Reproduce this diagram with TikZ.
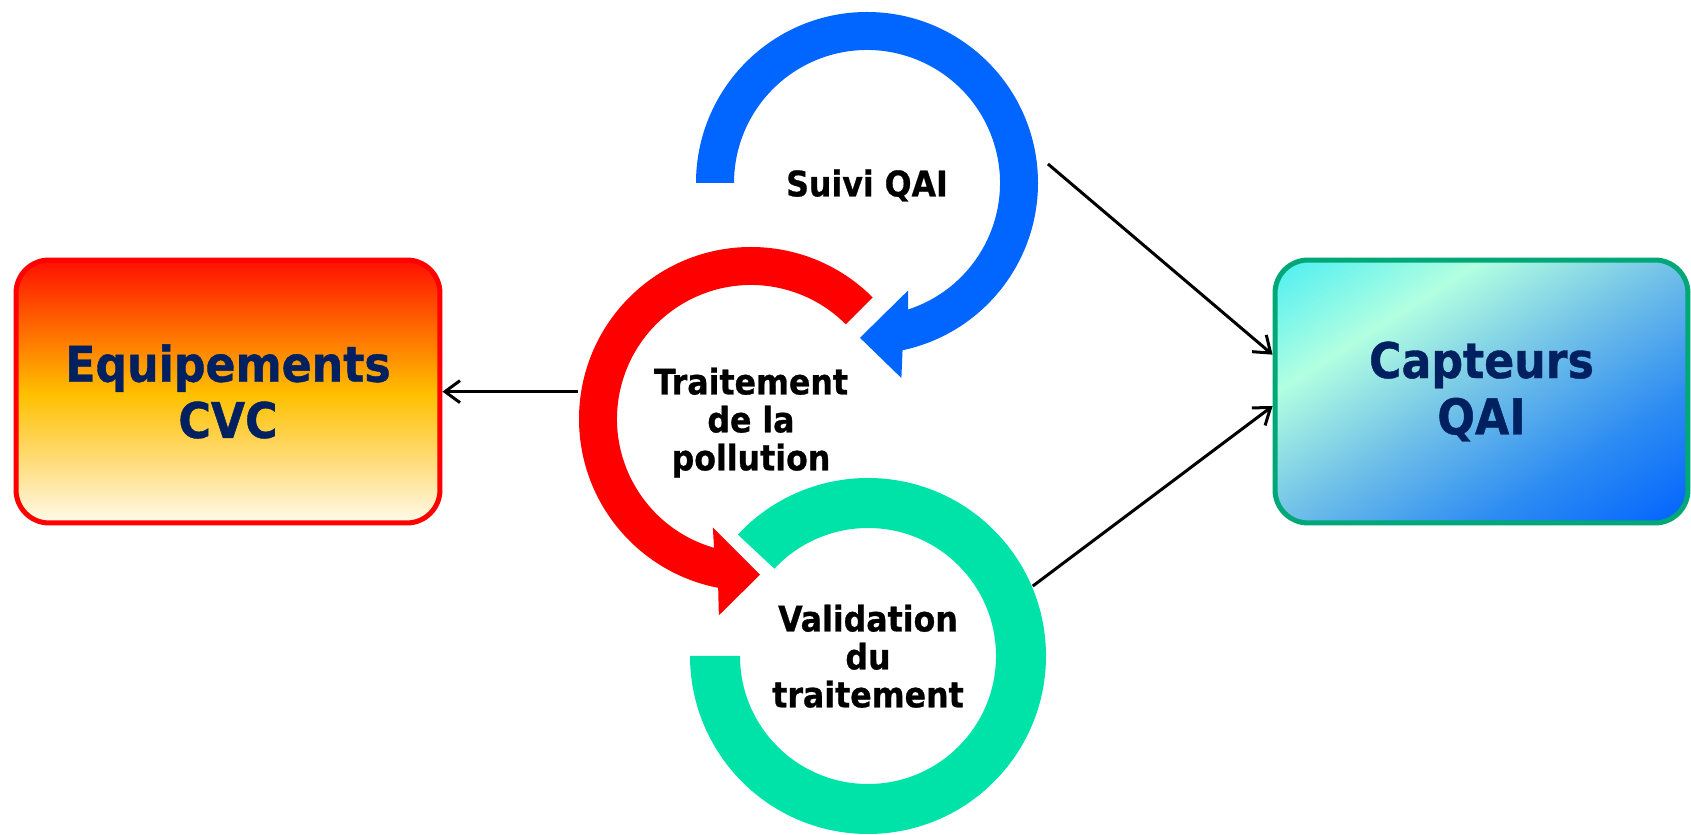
\documentclass[tikz,border=0pt]{standalone}
\usepackage{fontspec}
\setmainfont{DejaVu Sans Condensed}[BoldFont={DejaVu Sans Condensed Bold}, BoldFeatures={FakeBold=0.8}]
\usepackage{tikz}
\usetikzlibrary{arrows.meta}

\definecolor{ringblue}{RGB}{0,102,255}
\definecolor{ringred}{RGB}{255,0,0}
\definecolor{ringgreen}{RGB}{0,227,168}
\definecolor{navytext}{RGB}{0,32,96}
\definecolor{edgegreen}{RGB}{0,168,120}

\definecolor{fireA}{RGB}{255,250,235}
\definecolor{fireB}{RGB}{255,220,120}
\definecolor{fireC}{RGB}{255,192,0}
\definecolor{fireD}{RGB}{255,110,0}
\definecolor{fireE}{RGB}{255,15,0}
\pgfdeclareverticalshading{fire}{100bp}{color(0bp)=(fireA); color(25bp)=(fireA); color(37bp)=(fireB); color(49.5bp)=(fireC); color(61.5bp)=(fireD); color(75bp)=(fireE); color(100bp)=(fireE)}

\definecolor{coolA}{RGB}{75,238,242}
\definecolor{coolB}{RGB}{178,255,225}
\definecolor{coolC}{RGB}{112,192,232}
\definecolor{coolD}{RGB}{45,140,242}
\definecolor{coolE}{RGB}{0,98,255}
\pgfdeclarehorizontalshading{cool}{100bp}{color(0bp)=(coolA); color(25bp)=(coolA); color(37.5bp)=(coolB); color(50bp)=(coolC); color(62.5bp)=(coolD); color(75bp)=(coolE); color(100bp)=(coolE)}

\begin{document}
\begin{tikzpicture}[
        x=0.02cm, y=0.02cm,
        box/.style = {rounded corners=0.66cm, line width=0.1cm, minimum height=5.26cm, align=center, text=navytext, font=\fontsize{28}{32}\selectfont\bfseries},
        ring/.style = {circle, inner sep=0pt, outer sep=0pt, text depth=0pt, align=center, font=\fontsize{20}{21.6}\selectfont\bfseries},
        arrow/.style = {-{Straight Barb[length=0.3cm, width=0.44cm]}, line width=0.06cm}
        ]
    \useasboundingbox (0,0) rectangle (1691,835);

        % Ringe
        \begin{scope}[shift={(867,652)}]
        \fill[ringblue] (180:171) arc[start angle=180, end angle=-78, radius=171]
            -- (-80:198) -- (-92.6:155) -- (-69:115) -- (-72:133)
            arc[start angle=-72, end angle=180, radius=133] -- cycle;
        \end{scope}
        \begin{scope}[shift={(751,416)}]
        \fill[ringred] (45:172) arc[start angle=45, end angle=259, radius=172]
            -- (260.7:199) -- (273.3:156) -- (250.6:115) -- (254:134)
            arc[start angle=254, end angle=45, radius=134] -- cycle;
        \end{scope}
        \begin{scope}[shift={(868,179)}]
        \fill[ringgreen] (137:178) arc[start angle=137, end angle=-180, radius=178]
            -- (180:128) arc[start angle=180, end angle=497, radius=128] -- cycle;
        \end{scope}

        % Verlauf rechts (diagonal, mit dem Kasten gestreckt)
        \begin{scope}
        \clip[rounded corners=0.66cm] (1275,312) rectangle (1688,575);
        \shade[shading=cool, transform canvas={cm={206.5,-131.5,206.5,131.5,(1481.5,443.5)}}] (-1,-1) rectangle (1,1);
        \end{scope}

        % Knoten
        \node[ring, minimum size=7.28cm] (suivi) at (867,652) {Suivi QAI};
        \node[ring, minimum size=7cm] (traitement) at (751,416) {Traitement\\de la\\pollution};
        \node[ring, minimum size=7.16cm] (validation) at (868,179) {Validation\\du\\traitement};
        \node[box, draw=ringred, shade, shading=fire, minimum width=8.48cm] (cvc) at (228,443.5) {Equipements\\CVC};
        \node[box, draw=edgegreen, minimum width=8.26cm] (capteurs) at (1481.5,443.5) {Capteurs\\QAI};

        % Pfeile
        \draw[arrow] (traitement.171) -- (traitement.171 -| cvc.east);
        \draw[arrow] (suivi.6) -- (capteurs.170);
        \draw[arrow] (validation.23) -- (capteurs.184);

    \end{tikzpicture}
\end{document}
